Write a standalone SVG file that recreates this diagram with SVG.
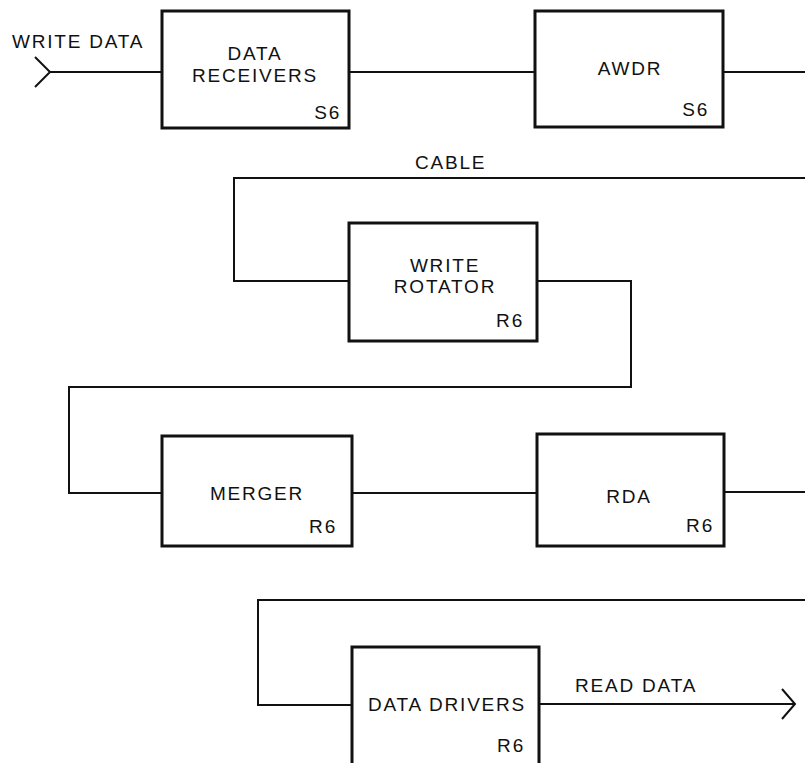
<svg xmlns="http://www.w3.org/2000/svg" width="805" height="763" viewBox="0 0 805 763">
<style>
.box{fill:#fff;stroke:#111;stroke-width:3}
.ln{fill:none;stroke:#111;stroke-width:2}
text{font-family:"Liberation Sans",Arial,sans-serif;font-size:19px;fill:#111;letter-spacing:1.8px}
.c{text-anchor:middle}
.r{text-anchor:end}
</style>
<rect width="805" height="763" fill="#fff"/>
<g id="connectors">
<polyline class="ln" points="35,57 50,72 35,87"/>
<line class="ln" x1="50" y1="72" x2="162" y2="72"/>
<line class="ln" x1="349" y1="72" x2="535" y2="72"/>
<line class="ln" x1="723" y1="72" x2="805" y2="72"/>
<polyline class="ln" points="805,178 234,178 234,281 349,281"/>
<polyline class="ln" points="537,281 631,281 631,387 69,387 69,493 162,493"/>
<line class="ln" x1="352" y1="493" x2="537" y2="493"/>
<line class="ln" x1="724" y1="492" x2="805" y2="492"/>
<polyline class="ln" points="805,600 258,600 258,705 352,705"/>
<line class="ln" x1="539" y1="704" x2="795" y2="704"/>
<polyline class="ln" points="782,689 795,704 782,719"/>
<text x="12" y="48">WRITE DATA</text>
<text x="415" y="169">CABLE</text>
<text x="575" y="692">READ DATA</text>
</g>
<g id="data-receivers">
<rect class="box" x="162" y="11" width="187" height="117"/>
<text class="c" x="255" y="60">DATA</text>
<text class="c" x="255" y="82">RECEIVERS</text>
<text class="r" x="341" y="119">S6</text>
</g>
<g id="awdr">
<rect class="box" x="535" y="11" width="188" height="116"/>
<text class="c" x="630" y="75">AWDR</text>
<text class="r" x="709" y="116">S6</text>
</g>
<g id="write-rotator">
<rect class="box" x="349" y="223" width="188" height="118"/>
<text class="c" x="445" y="272">WRITE</text>
<text class="c" x="445" y="293">ROTATOR</text>
<text class="r" x="524" y="327">R6</text>
</g>
<g id="merger">
<rect class="box" x="162" y="436" width="190" height="110"/>
<text class="c" x="257" y="500">MERGER</text>
<text class="r" x="337" y="533">R6</text>
</g>
<g id="rda">
<rect class="box" x="537" y="434" width="187" height="112"/>
<text class="c" x="629" y="503">RDA</text>
<text class="r" x="714" y="532">R6</text>
</g>
<g id="data-drivers">
<rect class="box" x="352" y="647" width="187" height="130"/>
<text class="c" x="447" y="711">DATA DRIVERS</text>
<text class="r" x="525" y="752">R6</text>
</g>
</svg>
